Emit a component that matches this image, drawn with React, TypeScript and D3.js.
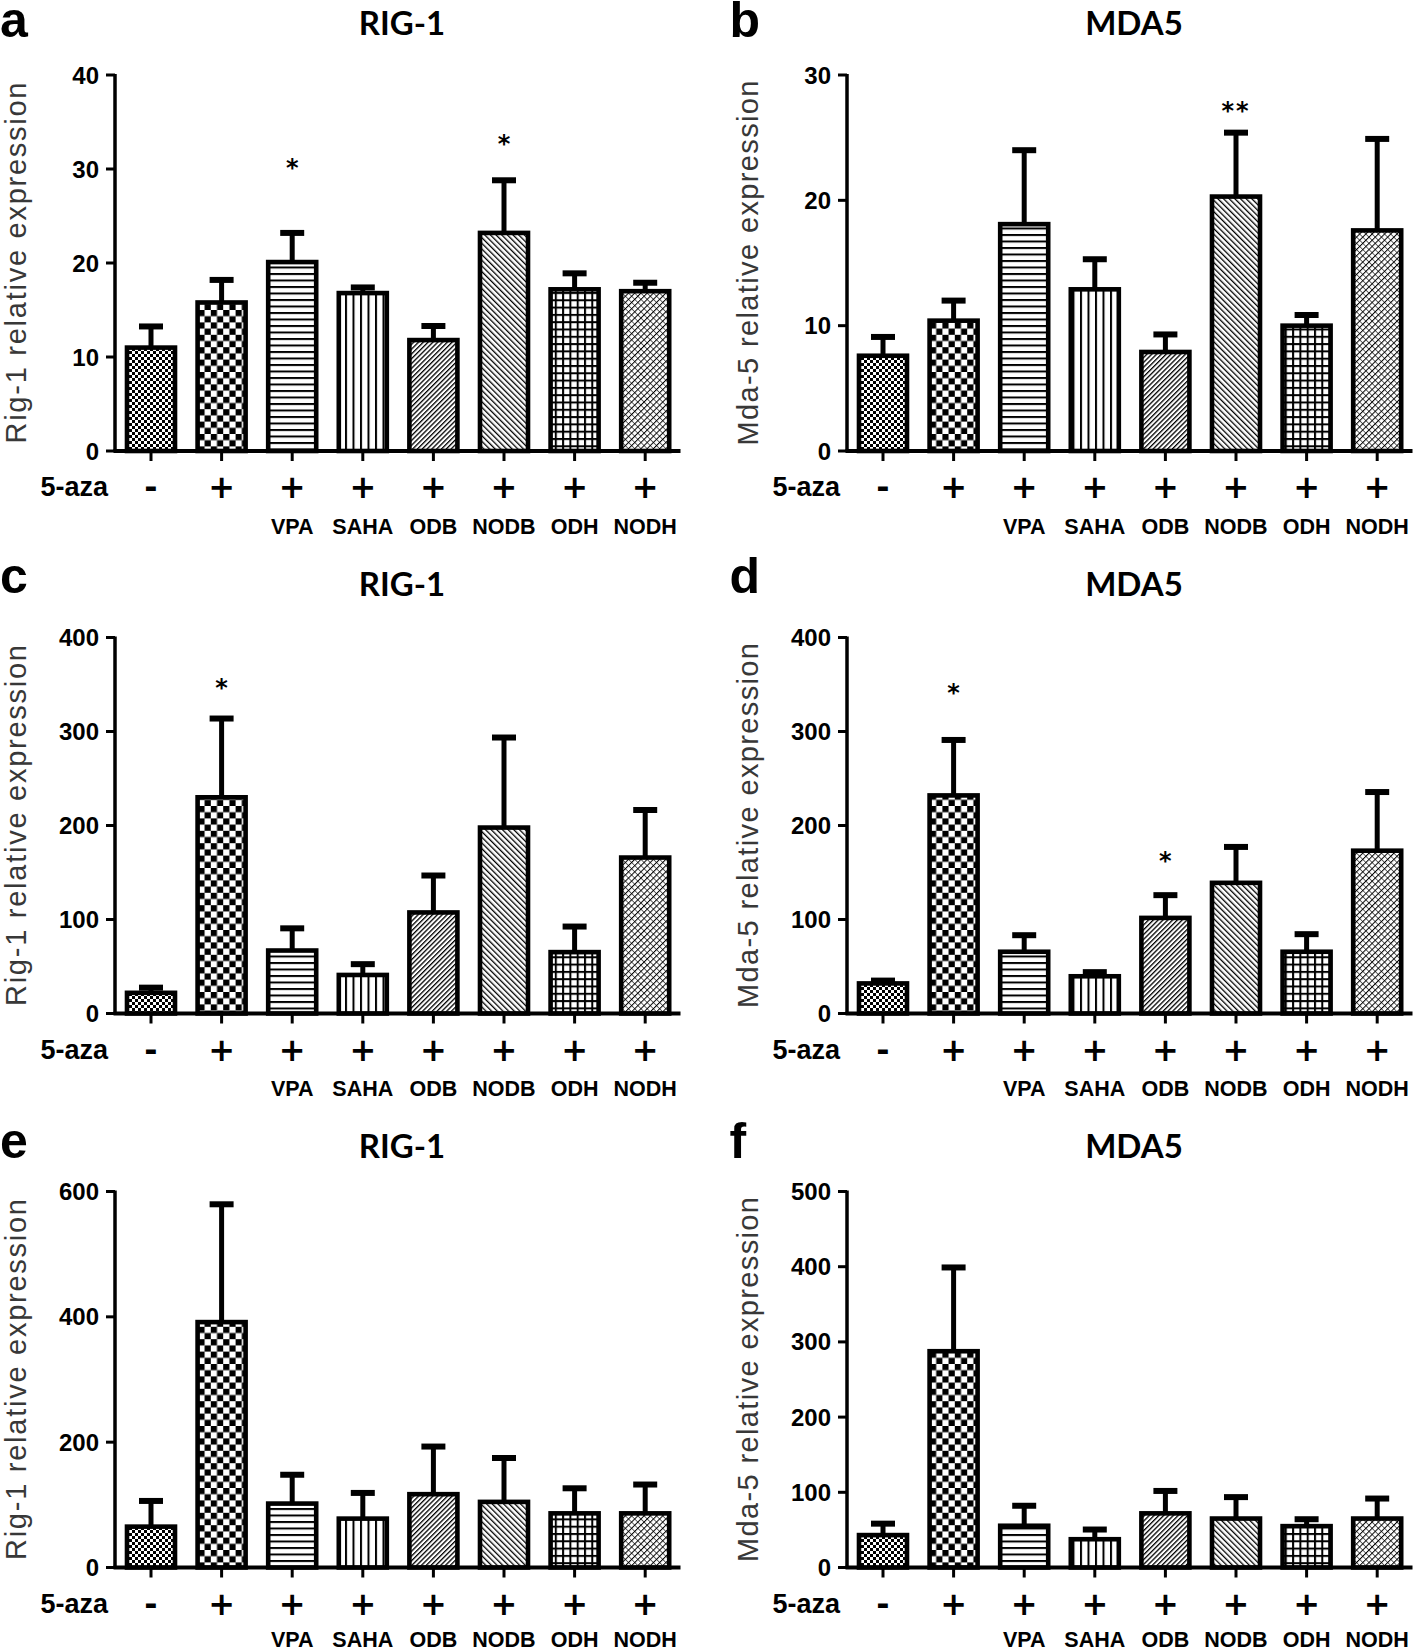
import React from "react";
import * as d3 from "d3";

// ---------- data ----------
const categories = ["ctrl", "aza", "VPA", "SAHA", "ODB", "NODB", "ODH", "NODH"];
const azaSigns = ["-", "+", "+", "+", "+", "+", "+", "+"];
const drugLabels = ["", "", "VPA", "SAHA", "ODB", "NODB", "ODH", "NODH"];

const rig1A = [11.0, 15.8, 20.1, 16.8, 11.8, 23.2, 17.2, 17.0];
const rig1AErr = [2.25, 2.4, 3.1, 0.6, 1.5, 5.6, 1.7, 0.9];
const rig1ASig = [null, null, 30.6, null, null, 33.2, null, null];
const rig1ASigText = ["", "", "*", "", "", "*", "", ""];

const mda5B = [7.6, 10.4, 18.1, 12.9, 7.9, 20.3, 10.0, 17.6];
const mda5BErr = [1.5, 1.6, 5.9, 2.4, 1.4, 5.1, 0.85, 7.3];
const mda5BSig = [null, null, null, null, null, 27.5, null, null];
const mda5BSigText = ["", "", "", "", "", "**", "", ""];

const rig1C = [22, 230, 67, 41, 107.5, 197.8, 65.3, 165.9];
const rig1CErr = [5.5, 83.8, 23.6, 11.5, 39.3, 95.8, 27.2, 50.6];
const rig1CSig = [null, 352, null, null, null, null, null, null];
const rig1CSigText = ["", "*", "", "", "", "", "", ""];

const mda5D = [32, 232, 65.7, 39.6, 101.7, 139, 65.7, 173.2];
const mda5DErr = [3, 59, 17.6, 4.4, 24.2, 38.2, 18.7, 62.4];
const mda5DSig = [null, 346, null, null, 167.7, null, null, null];
const mda5DSigText = ["", "*", "", "", "*", "", "", ""];

const rig1E = [65.2, 391.6, 102, 78, 117, 104.7, 86.4, 86.4];
const rig1EErr = [41, 188, 46, 41, 76, 70, 40, 46];
const rig1ESig = [null, null, null, null, null, null, null, null];
const rig1ESigText = ["", "", "", "", "", "", "", ""];

const mda5F = [43.1, 287.6, 55.5, 37.6, 72, 65.1, 55, 65.1];
const mda5FErr = [15.2, 111.4, 26.6, 12.9, 29.8, 28.5, 9.2, 26.6];
const mda5FSig = [null, null, null, null, null, null, null, null];
const mda5FSigText = ["", "", "", "", "", "", "", ""];

const yMaxes = [40, 30, 400, 400, 600, 500];
const yTickSteps = [10, 10, 100, 100, 200, 100];
const panelLetters = ["a", "b", "c", "d", "e", "f"];
const panelTitles = ["RIG-1", "MDA5", "RIG-1", "MDA5", "RIG-1", "MDA5"];
const yTitles = [
  "Rig-1 relative expression",
  "Mda-5 relative expression",
  "Rig-1 relative expression",
  "Mda-5 relative expression",
  "Rig-1 relative expression",
  "Mda-5 relative expression",
];

// ---------- layout ----------
const W = 1416;
const H = 1649;
const colX = [115, 847];
const rowTop = [75, 637.5, 1191.5];
const plotH = 376;
const titleY = [35, 596, 1158];
const letterY = [37, 593, 1158];
const letterX = [0, 729.5];
const yTitleX = [26, 758];
const yTitleLen = [361, 365];
const drugLabelOffset = [76, 75, 72.5];

const DEJAVU = "'DejaVu Sans', sans-serif";
const ARIAL = "'Liberation Sans', Arial, sans-serif";
const TITLEF = "Lato, 'Open Sans', sans-serif";

const patternIds = ["pSmallCheck", "pBigCheck", "pHoriz", "pVert", "pDiagF", "pDiagB", "pGrid", "pCross"];

function Patterns() {
  return (
    <defs>
      <pattern id="pSmallCheck" width="6" height="6" patternUnits="userSpaceOnUse">
        <rect width="6" height="6" fill="#fff" />
        <rect x="0" y="0" width="3" height="3" fill="#000" />
        <rect x="3" y="3" width="3" height="3" fill="#000" />
      </pattern>
      <pattern id="pBigCheck" width="12.4" height="12.4" patternUnits="userSpaceOnUse">
        <rect width="12.4" height="12.4" fill="#fff" />
        <rect x="0" y="0" width="6.2" height="6.2" fill="#000" />
        <rect x="6.2" y="6.2" width="6.2" height="6.2" fill="#000" />
      </pattern>
      <pattern id="pHoriz" width="10" height="6.5" patternUnits="userSpaceOnUse">
        <rect width="10" height="6.5" fill="#fff" />
        <rect x="0" y="0" width="10" height="2" fill="#000" />
      </pattern>
      <pattern id="pVert" width="7.5" height="10" patternUnits="userSpaceOnUse">
        <rect width="7.5" height="10" fill="#fff" />
        <rect x="0" y="0" width="2" height="10" fill="#000" />
      </pattern>
      <pattern id="pDiagF" width="3.4" height="10" patternUnits="userSpaceOnUse" patternTransform="rotate(45)">
        <rect width="3.4" height="10" fill="#fff" />
        <rect x="0" y="0" width="1.3" height="10" fill="#000" />
      </pattern>
      <pattern id="pDiagB" width="4" height="10" patternUnits="userSpaceOnUse" patternTransform="rotate(-45)">
        <rect width="4" height="10" fill="#fff" />
        <rect x="0" y="0" width="1.3" height="10" fill="#000" />
      </pattern>
      <pattern id="pGrid" width="7.3" height="7.3" patternUnits="userSpaceOnUse">
        <rect width="7.3" height="7.3" fill="#fff" />
        <rect x="0" y="0" width="2" height="7.3" fill="#000" />
        <rect x="0" y="0" width="7.3" height="2" fill="#000" />
      </pattern>
      <pattern id="pCross" width="4.4" height="4.4" patternUnits="userSpaceOnUse" patternTransform="rotate(45)">
        <rect width="4.4" height="4.4" fill="#fff" />
        <rect x="0" y="0" width="1" height="4.4" fill="#000" />
        <rect x="0" y="0" width="4.4" height="0.6" fill="#000" />
      </pattern>
    </defs>
  );
}

type PanelProps = {
  idx: number;
  means: number[];
  errs: number[];
  sig: (number | null)[];
  sigText: string[];
};

function Panel({ idx, means, errs, sig, sigText }: PanelProps) {
  const col = idx % 2;
  const row = Math.floor(idx / 2);
  const x0 = colX[col];
  const top = rowTop[row];
  const bottom = top + plotH;
  const yMax = yMaxes[idx];
  const y = d3.scaleLinear().domain([0, yMax]).range([bottom, top]);
  const x = d3
    .scaleBand<string>()
    .domain(categories)
    .range([x0 + 0.7, x0 + 565.5])
    .paddingInner(0.32)
    .paddingOuter(0.16);
  const bw = x.bandwidth();
  const ticks = d3.range(0, yMax + 0.001, yTickSteps[idx]);
  const xEnd = x0 + 565.5;

  return (
    <g>
      {/* panel letter */}
      <text x={letterX[col]} y={letterY[row]} fontFamily={ARIAL} fontWeight="bold" fontSize={50}>
        {panelLetters[idx]}
      </text>
      {/* title */}
      <text x={x0 + 287} y={titleY[row]} textAnchor="middle" fontFamily={TITLEF} fontWeight="bold" fontSize={33}>
        {panelTitles[idx]}
      </text>
      {/* y title */}
      <text
        transform={`translate(${yTitleX[col]},${(top + bottom) / 2}) rotate(-90)`}
        textAnchor="middle"
        fontFamily={ARIAL}
        fontSize={29}
        fill="#383838"
        textLength={yTitleLen[col]}
        lengthAdjust="spacing"
      >
        {yTitles[idx]}
      </text>
      {/* error bars */}
      {categories.map((c, i) => {
        const cx = (x(c) as number) + bw / 2;
        const yt = y(means[i] + errs[i]);
        return (
          <g key={"e" + c}>
            <line x1={cx} x2={cx} y1={y(means[i])} y2={yt} stroke="#000" strokeWidth={5} />
            <line x1={cx - 12} x2={cx + 12} y1={yt} y2={yt} stroke="#000" strokeWidth={6} />
          </g>
        );
      })}
      {/* bars */}
      {categories.map((c, i) => (
        <rect
          key={"b" + c}
          x={x(c) as number}
          y={y(means[i])}
          width={bw}
          height={bottom - y(means[i])}
          fill={`url(#${patternIds[i]})`}
          stroke="#000"
          strokeWidth={4.6}
        />
      ))}
      {/* significance */}
      {categories.map((c, i) =>
        sig[i] == null ? null : (
          <text
            key={"s" + c}
            x={(x(c) as number) + bw / 2}
            y={y(sig[i] as number) + 13}
            textAnchor="middle"
            fontFamily={DEJAVU}
            fontWeight="bold"
            fontSize={24}
            letterSpacing={sigText[i].length > 1 ? 2 : 0}
          >
            {sigText[i]}
          </text>
        )
      )}
      {/* axes */}
      <line x1={x0} x2={x0} y1={top - 1} y2={bottom} stroke="#000" strokeWidth={3.5} />
      <line x1={x0 - 1.5} x2={xEnd} y1={bottom} y2={bottom} stroke="#000" strokeWidth={3.8} />
      {ticks.map((t) => (
        <g key={"t" + t}>
          <line x1={x0 - 9} x2={x0} y1={y(t)} y2={y(t)} stroke="#000" strokeWidth={3} />
          <text
            x={x0 - 16}
            y={y(t)}
            textAnchor="end"
            dominantBaseline="central"
            fontFamily={ARIAL}
            fontWeight="bold"
            fontSize={24}
          >
            {t}
          </text>
        </g>
      ))}
      {categories.map((c) => {
        const cx = (x(c) as number) + bw / 2;
        return <line key={"xt" + c} x1={cx} x2={cx} y1={bottom} y2={bottom + 10} stroke="#000" strokeWidth={3} />;
      })}
      {/* 5-aza row */}
      <text
        x={x0 - 7}
        y={bottom + 36}
        textAnchor="end"
        dominantBaseline="central"
        fontFamily={ARIAL}
        fontWeight="bold"
        fontSize={27}
      >
        5-aza
      </text>
      {categories.map((c, i) => (
        <text
          key={"a" + c}
          x={(x(c) as number) + bw / 2}
          y={bottom + 36}
          textAnchor="middle"
          dominantBaseline="central"
          fontFamily={DEJAVU}
          fontWeight="bold"
          fontSize={32}
        >
          {azaSigns[i]}
        </text>
      ))}
      {categories.map((c, i) =>
        drugLabels[i] ? (
          <text
            key={"d" + c}
            x={(x(c) as number) + bw / 2}
            y={bottom + drugLabelOffset[row]}
            textAnchor="middle"
            dominantBaseline="central"
            fontFamily={ARIAL}
            fontWeight="bold"
            fontSize={21.5}
          >
            {drugLabels[i]}
          </text>
        ) : null
      )}
    </g>
  );
}

export default function App() {
  return (
    <svg
      width={W}
      height={H}
      viewBox={`0 0 ${W} ${H}`}
      style={{ position: "absolute", left: 0, top: 0, background: "#fff" }}
    >
      <rect width={W} height={H} fill="#fff" />
      <Patterns />
      <Panel idx={0} means={rig1A} errs={rig1AErr} sig={rig1ASig} sigText={rig1ASigText} />
      <Panel idx={1} means={mda5B} errs={mda5BErr} sig={mda5BSig} sigText={mda5BSigText} />
      <Panel idx={2} means={rig1C} errs={rig1CErr} sig={rig1CSig} sigText={rig1CSigText} />
      <Panel idx={3} means={mda5D} errs={mda5DErr} sig={mda5DSig} sigText={mda5DSigText} />
      <Panel idx={4} means={rig1E} errs={rig1EErr} sig={rig1ESig} sigText={rig1ESigText} />
      <Panel idx={5} means={mda5F} errs={mda5FErr} sig={mda5FSig} sigText={mda5FSigText} />
    </svg>
  );
}
